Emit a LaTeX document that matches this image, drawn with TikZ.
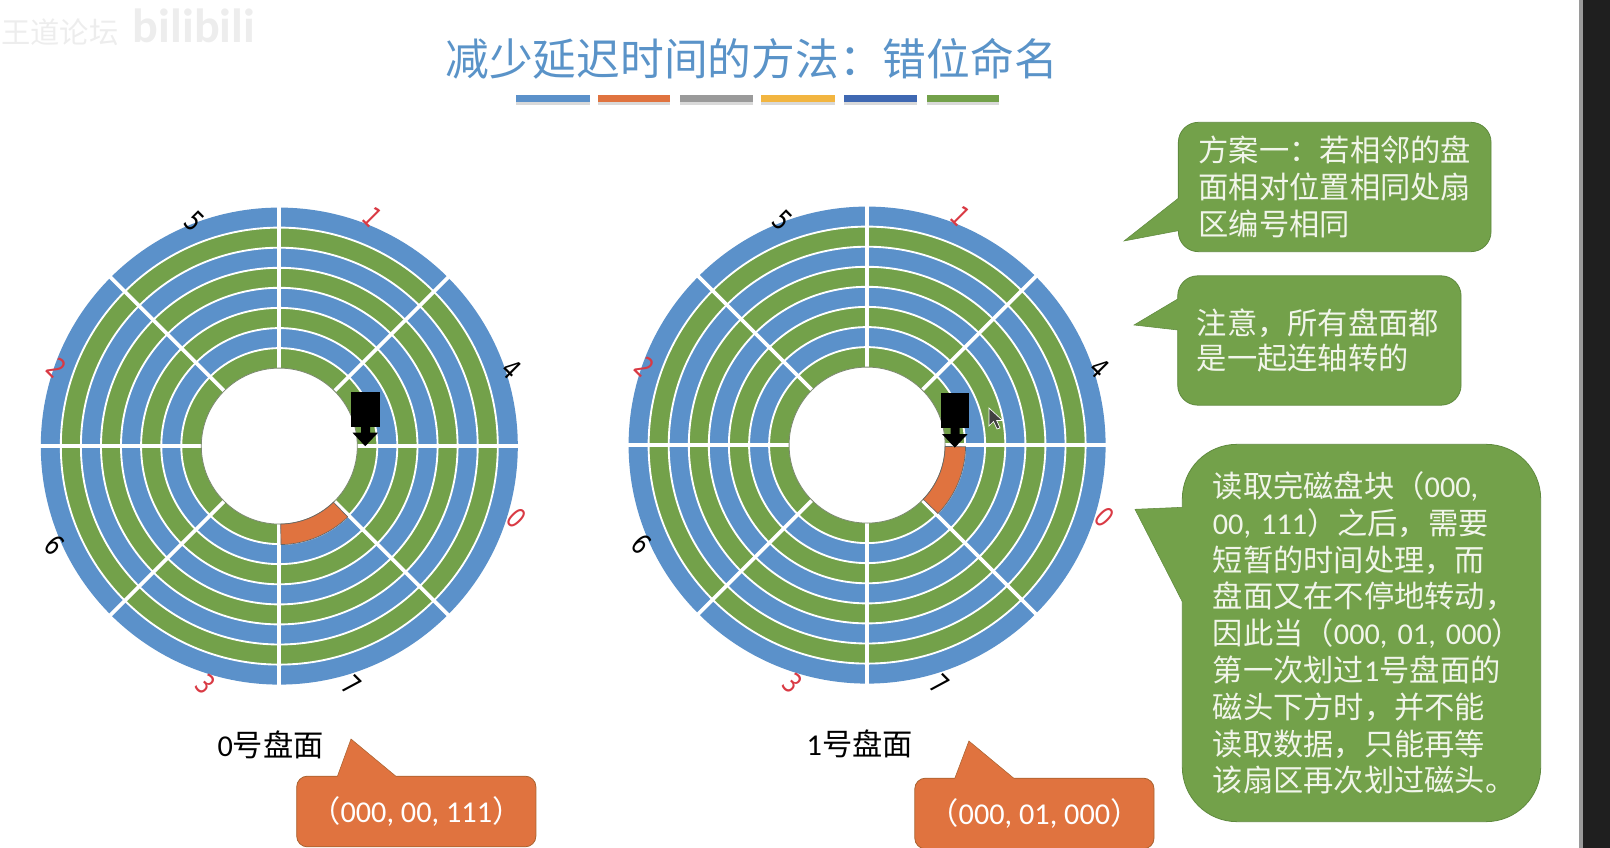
\documentclass[tikz,border=0pt]{standalone}
\usepackage{fontspec}
\usepackage{xcolor}
\setmainfont{Noto Sans CJK SC}
\newfontfamily\lat{Carlito}
\newfontfamily\dig[FakeStretch=0.78]{DejaVu Sans}
\usetikzlibrary{positioning}
\definecolor{diskblue}{HTML}{5B91CA}
\definecolor{diskgreen}{HTML}{73A14A}
\definecolor{noteedge}{HTML}{5F8A3E}
\definecolor{tagfill}{HTML}{E0733F}
\definecolor{tagedge}{HTML}{A9622F}
\definecolor{titleblue}{HTML}{5A93C8}
\definecolor{notetext}{HTML}{F1F5EA}
\definecolor{numred}{HTML}{D93A44}
\definecolor{bargray}{HTML}{9A9A9A}
\definecolor{baryellow}{HTML}{F2B540}
\definecolor{bardeep}{HTML}{3F68B2}
% full-width punctuation
\newcommand{\zcomma}{\symbol{"FF0C}}
\newcommand{\zcolon}{\symbol{"FF1A}}
\newcommand{\zlp}{\symbol{"FF08}}
\newcommand{\zrp}{\symbol{"FF09}}

\begin{document}
\begin{tikzpicture}[x=0.75pt, y=-0.75pt]
    \tikzstyle{ringline} = [draw=white, line width=1.4pt]
    \tikzstyle{spoke} = [draw=white, line width=2.8pt]
    \tikzstyle{sector} = [fill=tagfill, draw=gray!80!black, line width=0.5pt]
    \tikzstyle{note} = [rectangle, fill=diskgreen, draw=noteedge, line width=0.6pt, text=notetext, align=left, font=\fontsize{22.7}{27.6}\selectfont]
    \tikzstyle{tag} = [rectangle, fill=tagfill, draw=tagedge, line width=0.6pt, rounded corners=8pt, text=white, font=\fontsize{22.7}{26}\selectfont]
    \tikzstyle{caption} = [text=black, font=\fontsize{22.7}{27}\selectfont]
    \tikzstyle{num} = [inner sep=0pt, rotate=-45, font=\dig\fontsize{21}{24}\selectfont]
    \tikzstyle{colorbar} = [fill, draw=none]

    \useasboundingbox (0,0) rectangle (1610,848);

    % watermark and screen edge
    \node [text=black!7, font=\fontsize{22}{27}\selectfont, inner sep=0pt] (mark) at (60,32) {王道论坛};
    \node [text=black!7, font=\lat\bfseries\fontsize{36}{40}\selectfont, inner sep=0pt] (site) at (194,26) {bilibili};
    \fill [bargray] (1579,0) rectangle (1583,848);
    \fill [black!88] (1583,0) rectangle (1610,848);

    % title
    \node [text=titleblue, font=\fontsize{32.8}{38}\selectfont] (title) at (751.6,58.5) {减少延迟时间的方法\zcolon 错位命名};
    \foreach \xa/\xb/\c in {515.8/589.5/diskblue, 597.9/669.5/tagfill, 680/753/bargray, 761.4/835/baryellow, 844/916.5/bardeep, 927/999.3/diskgreen} {
        \fill [black!15] (\xa,102) rectangle (\xb,105);
        \fill [colorbar, \c] (\xa,95) rectangle (\xb,102);
    }

    % the two platters
    \foreach \d/\cx/\cy/\from/\to/\hx/\hy in {0/279.3/446.1/-89/-46/71.7/-54.4, 1/867.1/445.1/-44/-1/73.5/-52} {
        \begin{scope}[shift={(\cx,\cy)}, yscale=-1]
            \foreach \r [count=\i] in {238.5,218.5,198.4,178.3,158.3,138.2,118,98} {
                \pgfmathsetmacro{\shade}{isodd(\i) ? 100 : 0}
                \fill [diskblue!\shade!diskgreen] (0,0) circle (\r);
                \ifnum\i>1 \draw [ringline] (0,0) circle (\r); \fi
            }
            \foreach \a in {0,45,...,315}
                \draw [spoke] (\a:76) -- (\a:239.5);
            \fill [white] (0,0) circle (78);
            \draw [gray!70!diskgreen, line width=0.6pt] (0,0) circle (78);
            \draw [sector] (\from:78) arc[start angle=\from, end angle=\to, radius=78] -- (\to:98.5) arc[start angle=\to, end angle=\from, radius=98.5] -- cycle;
            \foreach \lab/\ang/\rad/\col in {0/343.1/248.1/numred, 1/67.8/246.8/numred, 2/160.7/235.8/numred, 3/252.7/249.2/numred, 4/18.3/244.8/black, 5/110.6/239.7/black, 6/203.7/245.8/black, 7/286.9/249.6/black}
                \node [num, text=\col] (d\d-\lab) at (\ang:\rad) {\lab};
        \end{scope}
        % read head
        \begin{scope}[shift={(\cx,\cy)}, shift={(\hx,\hy)}]
            \fill [black] (0,0) rectangle (28.5,35);
            \fill [black] (10,35) rectangle (19,41) (1.5,41) -- (27,41) -- (14.2,54.5) -- cycle;
        \end{scope}
    }

    % mouse pointer
    \filldraw [fill=black!75, draw=white, line width=0.5pt] (989,408) -- (989,426) -- (993.5,421.5) -- (997,429) -- (1000,428) -- (996.7,420.5) -- (1002.5,420.5) -- cycle;

    % plate captions and sector tags
    \node [caption] (plate0) at (270.7,745) {{\lat 0}号盘面};
    \node [caption] (plate1) at (859.8,743.5) {{\lat 1}号盘面};

    \node [tag, minimum width=179.4pt, minimum height=53pt] (tag0) at (416.3,811.5) {\zlp{\lat 000, 00, 111}\zrp};
    \node [tag, minimum width=179.4pt, minimum height=53pt] (tag1) at (1034.4,813.5) {\zlp{\lat 000, 01, 000}\zrp};
    \coordinate (tip0) at (351,739);
    \coordinate (tip1) at (968.9,741);
    \fill [tagfill] (337.5,778) -- (337.5,776) -- (tip0) -- (395.6,776) -- (395.6,778) -- cycle;
    \draw [tagedge, line width=0.4pt] (337.5,776) -- (tip0) -- (395.6,776);
    \fill [tagfill] (954.9,780) -- (954.9,778) -- (tip1) -- (1013.5,778) -- (1013.5,780) -- cycle;
    \draw [tagedge, line width=0.4pt] (954.9,778) -- (tip1) -- (1013.5,778);

    % notes on the right
    \node [note, rounded corners=15pt, minimum width=234.5pt, minimum height=97pt, text width=204pt, inner xsep=15pt] (note1) at (1334.7,187) {方案一\zcolon 若相邻的盘\\面相对位置相同处扇\\区编号相同};
    \node [note, rounded corners=15pt, minimum width=212.5pt, minimum height=97pt, text width=184pt, inner xsep=14pt, font=\fontsize{22.7}{25.9}\selectfont] (note2) at (1319.4,340.5) {注意\zcomma 所有盘面都\\是一起连轴转的};
    \node [note, rounded corners=41pt, minimum width=268.8pt, minimum height=283pt, text width=223pt, inner xsep=22.9pt] (note3) at (1361.5,633) {读取完磁盘块\zlp{\lat 000,}\\{\lat 00,~111}\zrp 之后\zcomma 需要\\短暂的时间处理\zcomma 而\\盘面又在不停地转动\zcomma\\因此当\zlp{\lat 000,~01,~000}\zrp\\第一次划过{\lat 1}号盘面的\\磁头下方时\zcomma 并不能\\读取数据\zcomma 只能再等\\该扇区再次划过磁头\symbol{"3002}};
    \coordinate (ptr1) at (1124,241);
    \coordinate (ptr2) at (1134,325);
    \coordinate (ptr3) at (1135,509.3);
    \fill [diskgreen] (1180,198.3) -- (1178.3,198.3) -- (ptr1) -- (1178.3,230.7) -- (1180,230.7) -- cycle;
    \draw [noteedge, line width=0.4pt] (1178.3,198.3) -- (ptr1) -- (1178.3,230.7);
    \fill [diskgreen] (1179.5,299) -- (1177.7,299) -- (ptr2) -- (1177.7,330) -- (1179.5,330) -- cycle;
    \draw [noteedge, line width=0.4pt] (1177.7,299) -- (ptr2) -- (1177.7,330);
    \fill [diskgreen] (1184,507.3) -- (1182.3,507.3) -- (ptr3) -- (1182.3,601.7) -- (1184,601.7) -- cycle;
    \draw [noteedge, line width=0.4pt] (1182.3,507.3) -- (ptr3) -- (1182.3,601.7);
\end{tikzpicture}
\end{document}
